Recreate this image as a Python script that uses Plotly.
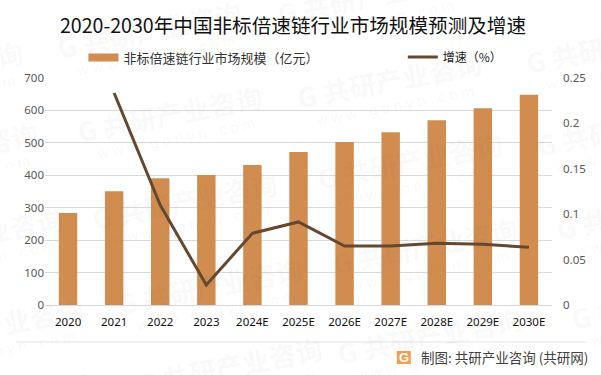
import plotly.graph_objects as go

W, H = 601, 375
L, R, T, B = 44.5, 552.5, 78, 305

categories = ["2020", "2021", "2022", "2023", "2024E", "2025E", "2026E", "2027E", "2028E", "2029E", "2030E"]
market_size = [284, 351, 391, 401, 432, 472, 503, 533, 570, 607, 648]
growth = [None, 0.2335, 0.110, 0.022, 0.079, 0.0915, 0.065, 0.065, 0.068, 0.067, 0.0635]
left_ticks = [0, 100, 200, 300, 400, 500, 600, 700]
right_ticks = [0, 0.05, 0.1, 0.15, 0.2, 0.25]
right_labels = ["0", "0.05", "0.1", "0.15", "0.2", "0.25"]
title_text = "2020-2030年中国非标倍速链行业市场规模预测及增速"
bar_name = "非标倍速链行业市场规模（亿元）"
line_name = "增速（%）"
source_text = "制图: 共研产业咨询 (共研网)"
wm_main = "G 共研产业咨询"
wm_sub = "w w w . g o n y n . c o m"
wm_centres = [
    (-70, 70), (-55, 150), (-30, 235), (-10, 325), (5, 400),
    (150, 30), (170, 113), (185, 200), (210, 285), (230, 365),
    (370, -5), (390, 80), (410, 160), (425, 245), (430, 335),
    (620, 45), (630, 127), (650, 210), (665, 300),
]
FONT = "Noto Sans CJK SC"
BAR = "#D18C4F"
LINE = "#664830"


def px(x):
    return (x - L) / (R - L)


def py(y):
    return (B - y) / (B - T)


fig = go.Figure()
fig.add_bar(x=categories, y=market_size, name=bar_name, marker_color=BAR, marker_line_width=0, yaxis="y",
            showlegend=False)
fig.add_scatter(x=categories, y=growth, name=line_name, mode="lines", yaxis="y2", legend="legend2",
                line=dict(color=LINE, width=3), connectgaps=False)
# legend key with the long flat swatch of the reference
fig.add_scatter(x=categories, y=[None] * len(categories), name=bar_name, mode="lines", yaxis="y",
                legend="legend", line=dict(color=BAR, width=8), hoverinfo="skip")

ann = []
for cx, cy in wm_centres:
    ann.append(dict(x=px(cx), y=py(cy), xref="paper", yref="paper", text=wm_main, showarrow=False, textangle=-11,
                    xanchor="center", yanchor="middle",
                    font=dict(family=FONT, size=27, color="rgba(90,90,90,0.045)", weight=700)))
    ann.append(dict(x=px(cx + 5), y=py(cy + 25), xref="paper", yref="paper", text=wm_sub, showarrow=False, textangle=-11,
                    xanchor="center", yanchor="middle",
                    font=dict(family="Liberation Sans", size=15, color="rgba(90,90,90,0.05)")))
ann.append(dict(x=px(419), y=py(357), xref="paper", yref="paper", text=source_text, showarrow=False, xanchor="left",
                yanchor="middle", font=dict(family=FONT, size=13.5, color="#404040")))
ann.append(dict(x=px(404), y=py(357.5), xref="paper", yref="paper", text="G", showarrow=False,
                xanchor="center", yanchor="middle",
                font=dict(family="Liberation Sans", size=13, color="white", weight=700)))

shapes = [
    dict(type="line", xref="paper", yref="paper", x0=px(15), x1=px(587), y0=py(342), y1=py(342),
         line=dict(color="#E4E4E4", width=1)),
    dict(type="rect", xref="paper", yref="paper", x0=px(397), x1=px(411), y0=py(351), y1=py(364),
         fillcolor="#F0A050", line=dict(width=0)),
]

leg_common = dict(orientation="v", yanchor="middle", xanchor="left", xref="paper", yref="paper",
                  itemwidth=30, bgcolor="rgba(0,0,0,0)", borderwidth=0)

fig.update_layout(
    width=W, height=H, autosize=False,
    margin=dict(l=L, r=W - R, t=T, b=H - B, pad=0),
    paper_bgcolor="white", plot_bgcolor="white",
    font=dict(family=FONT),
    title=dict(text=title_text, x=293 / W, xanchor="center", xref="container", y=1 - 26.5 / H, yanchor="middle",
               font=dict(family=FONT, size=19.6, color="#111111")),
    bargap=0.6, showlegend=True,
    legend=dict(x=px(83), y=py(57.5), font=dict(family=FONT, size=13, color="#333333"), **leg_common),
    legend2=dict(x=px(403), y=py(57), font=dict(family=FONT, size=12, color="#222222"), **leg_common),
    xaxis=dict(type="category", showgrid=False, showline=True, linecolor="#D9D9D9", linewidth=1, ticks="",
               tickfont=dict(family="Noto Sans", size=11.5, color="#111111"), ticklabelstandoff=6),
    yaxis=dict(range=[0, 700], tickvals=left_ticks, showgrid=True, gridcolor="#D9D9D9", gridwidth=1, zeroline=False,
               tickfont=dict(family="Noto Sans", size=11.5, color="#595959"), ticks="", showline=False),
    yaxis2=dict(range=[0, 0.25], tickvals=right_ticks, ticktext=right_labels, overlaying="y", side="right",
                showgrid=False, zeroline=False, ticks="", showline=False,
                tickfont=dict(family="Noto Sans", size=11.5, color="#595959"), ticklabelstandoff=10),
    annotations=ann, shapes=shapes,
)
fig.write_html("out.html", config=dict(displayModeBar=False),
               post_script="document.body.style.margin='0';document.documentElement.style.overflow='hidden';")
